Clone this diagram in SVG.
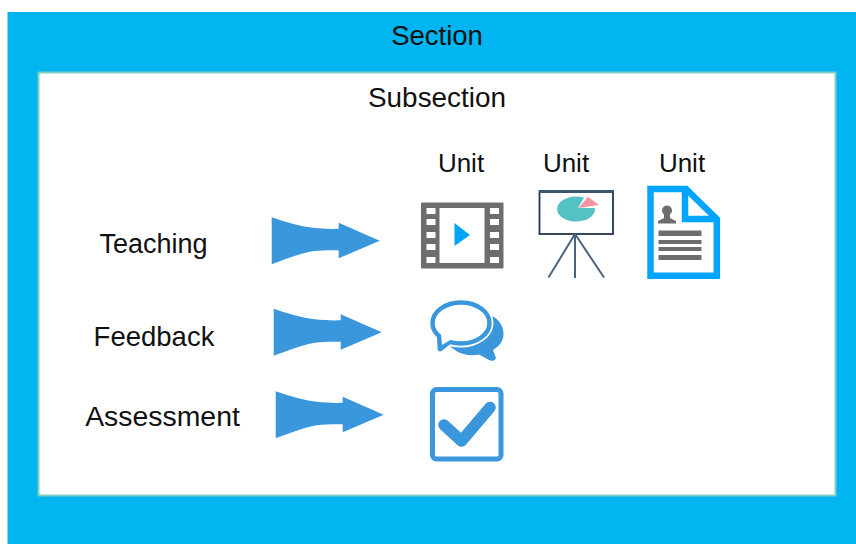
<svg xmlns="http://www.w3.org/2000/svg" width="856" height="544" viewBox="0 0 856 544">
<defs>
<style>
text{font-family:"Liberation Sans",Arial,sans-serif;font-size:27.500px;fill:#111;text-anchor:middle}
.u{font-size:26px}
.g{fill:#6d6d6d}
.w{fill:#fff}
.b{fill:#3a97dc}
</style>
<path id="arrow" class="b" d="M0 0C14 5 28 9 41 10.500C50 11.500 59 11.800 67 11.500V5.500L108 23.500L67 41V33C58 32.700 50 33 41 34C28 36 14 42 0 47Z"/>
</defs>
<rect width="856" height="544" fill="#fff"/>
<g id="section">
<rect x="7.500" y="12" width="848.500" height="532" fill="#00b5f0"/>
<text x="437" y="45">Section</text>
</g>
<g id="subsection">
<rect x="38.500" y="72.500" width="797" height="423" fill="#fff" stroke="#7fd0c4" stroke-width="2"/>
<text x="437" y="107" style="font-size:27.900px">Subsection</text>
</g>
<g id="teaching"><text x="153.500" y="253" style="font-size:27px">Teaching</text></g>
<g id="feedback"><text x="154" y="346">Feedback</text></g>
<g id="assessment"><text x="162.500" y="426" style="font-size:28.400px">Assessment</text></g>
<g id="connectors">
<use href="#arrow" x="271.700" y="217.300"/>
<use href="#arrow" x="273.700" y="308.800"/>
<use href="#arrow" x="275.700" y="391.300"/>
</g>
<g id="unit-video">
<text class="u" x="461" y="172">Unit</text>
<rect class="g" x="421" y="202.500" width="82.500" height="66" rx="1"/>
<rect class="w" x="439.500" y="208" width="45" height="55"/>
<rect class="w" x="426.500" y="208" width="9" height="6"/>
<rect class="w" x="426.500" y="219" width="9" height="6"/>
<rect class="w" x="426.500" y="232" width="9" height="6"/>
<rect class="w" x="426.500" y="244" width="9" height="6"/>
<rect class="w" x="426.500" y="257" width="9" height="6"/>
<rect class="w" x="490" y="208" width="9" height="6"/>
<rect class="w" x="490" y="219" width="9" height="6"/>
<rect class="w" x="490" y="232" width="9" height="6"/>
<rect class="w" x="490" y="244" width="9" height="6"/>
<rect class="w" x="490" y="257" width="9" height="6"/>
<path d="M454.500 223L470 235L454.500 246Z" fill="#00a5f5"/>
</g>
<g id="unit-presentation">
<text class="u" x="566" y="172">Unit</text>
<rect x="539.500" y="191" width="73.500" height="43" fill="#fff" stroke="#22364c" stroke-width="1.800"/>
<rect x="539" y="190" width="74.500" height="3" fill="#3c5570"/>
<path d="M584 197.700A19 12.500 0 1 0 595 208L578 208Z" fill="#54c2c4"/>
<path d="M578.500 208L588 196.700L599 205Z" fill="#f2959f"/>
<path d="M575 234L548.500 277.500M575 234V278M575 234L604 277.500" fill="none" stroke="#4a6480" stroke-width="2"/>
</g>
<g id="unit-document">
<text class="u" x="682" y="172">Unit</text>
<path d="M650.500 189H686L716.800 219V275.800H650.500Z" fill="#fff" stroke="#00a5ff" stroke-width="6.500"/>
<path d="M685 189V219H717" fill="none" stroke="#00a5ff" stroke-width="6.500"/>
<circle class="g" cx="667" cy="210.500" r="5"/>
<path class="g" d="M664 214H670V218L676 221V223.500H658V221L664 218Z"/>
<rect class="g" x="658.500" y="230.500" width="43" height="5.500"/>
<rect class="g" x="658.500" y="240" width="43" height="4"/>
<rect class="g" x="658.500" y="247" width="43" height="4"/>
<rect class="g" x="658.500" y="255" width="43" height="5"/>
</g>
<g id="feedback-icon">
<path class="b" d="M493 316.500C501 321 503.500 328 503.500 334C503.500 342 498 347 493 350L496 358C495 361 491 361.500 489 360L479 354.500C467 357 457 353 450 346L470 330Z"/>
<ellipse cx="461" cy="323" rx="32.500" ry="24.500" fill="#fff"/>
<path d="M437 336L437.500 349C438 352 441 352 443 350L453 342Z" class="b"/>
<ellipse cx="461" cy="323" rx="28.500" ry="20.500" fill="#fff" stroke="#3a97dc" stroke-width="4.500"/>
<path d="M441 333L442 345L452 339Z" fill="#fff"/>
</g>
<g id="assessment-icon">
<rect x="432.500" y="389.500" width="68.500" height="69.500" rx="4" fill="#fff" stroke="#3a97dc" stroke-width="5"/>
<path d="M444 425L461.500 441L490 407.500" fill="none" stroke="#3a97dc" stroke-width="11.500" stroke-linecap="round" stroke-linejoin="round"/>
</g>
</svg>
